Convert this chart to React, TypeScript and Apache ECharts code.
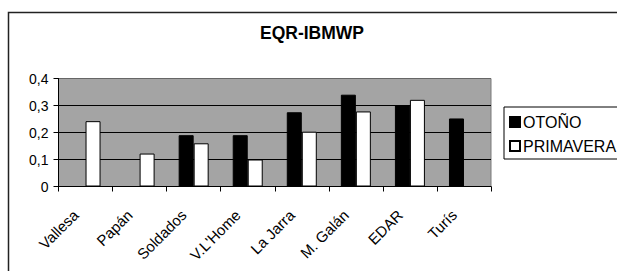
import React, { useEffect, useRef } from "react";
import * as echarts from "echarts";

const categories = ["Vallesa", "Papán", "Soldados", "V.L'Home", "La Jarra", "M. Galán", "EDAR", "Turís"];
const otono: (number | null)[] = [null, null, 0.19, 0.19, 0.275, 0.34, 0.3, 0.252];
const primavera: (number | null)[] = [0.242, 0.122, 0.16, 0.1, 0.203, 0.278, 0.321, null];
const yTicks = [0, 0.1, 0.2, 0.3, 0.4];

const FONT = "'Liberation Sans', Arial, sans-serif";

export default function App() {
  const ref = useRef<HTMLDivElement>(null);
  useEffect(() => {
    if (!ref.current) return;
    const chart = echarts.init(ref.current, null, { renderer: "svg" });
    chart.setOption({
      animation: false,
      backgroundColor: "#ffffff",
      textStyle: { fontFamily: FONT },
      title: {
        text: "EQR-IBMWP",
        left: 260,
        top: 24,
        padding: 0,
        textStyle: { fontFamily: FONT, fontSize: 17.5, fontWeight: "bold", color: "#000" },
      },
      graphic: [
        {
          type: "rect",
          shape: { x: 8.5, y: 12.5, width: 700, height: 400 },
          style: { fill: "none", stroke: "#222", lineWidth: 1.5 },
          silent: true,
          z: 100,
        },
      ],
      legend: {
        orient: "vertical",
        left: 504,
        top: 107,
        padding: [6, 10, 4, 5],
        itemGap: 6,
        itemWidth: 10,
        itemHeight: 10,
        borderColor: "#000",
        borderWidth: 1,
        backgroundColor: "#fff",
        icon: "rect",
        textStyle: { fontFamily: FONT, fontSize: 16, color: "#000", lineHeight: 18, padding: [0, 0, 0, -2] },
        data: ["OTOÑO", "PRIMAVERA"],
      },
      grid: {
        left: 58.5,
        right: 126,
        top: 78.5,
        bottom: 84.5,
        show: true,
        backgroundColor: "#a4a4a4",
        borderColor: "#7a7a7a",
        borderWidth: 1,
      },
      xAxis: {
        type: "category",
        data: categories,
        axisLine: { lineStyle: { color: "#000", width: 1 } },
        axisTick: { show: true, length: 5, lineStyle: { color: "#000" } },
        axisLabel: {
          rotate: 45,
          interval: 0,
          margin: 16,
          padding: [0, 14, 0, 0],
          fontFamily: FONT,
          fontSize: 15,
          color: "#000",
        },
      },
      yAxis: {
        type: "value",
        min: 0,
        max: 0.4,
        interval: 0.1,
        axisLine: { show: true, lineStyle: { color: "#000", width: 1 } },
        axisTick: { show: true, length: 5, lineStyle: { color: "#000" } },
        axisLabel: {
          margin: 10,
          fontFamily: FONT,
          fontSize: 14,
          color: "#000",
          formatter: (v: number) => {
            const t = yTicks.find((x) => Math.abs(x - v) < 1e-9);
            return (t !== undefined ? String(t) : String(v)).replace(".", ",");
          },
        },
        splitLine: { show: true, lineStyle: { color: ["#000", "#000", "#000", "#000", "#666"], width: 1 } },
      },
      series: [
        {
          name: "OTOÑO",
          type: "bar",
          data: otono,
          barWidth: 15,
          barGap: "0%",
          itemStyle: { color: "#000", borderColor: "#000", borderWidth: 1 },
        },
        {
          name: "PRIMAVERA",
          type: "bar",
          data: primavera,
          barWidth: 15,
          barGap: "0%",
          itemStyle: { color: "#fff", borderColor: "#000", borderWidth: 1 },
        },
      ],
    });
    return () => chart.dispose();
  }, []);
  return (
    <div
      ref={ref}
      style={{ position: "fixed", left: 0, top: 0, width: 617, height: 271 }}
    />
  );
}
